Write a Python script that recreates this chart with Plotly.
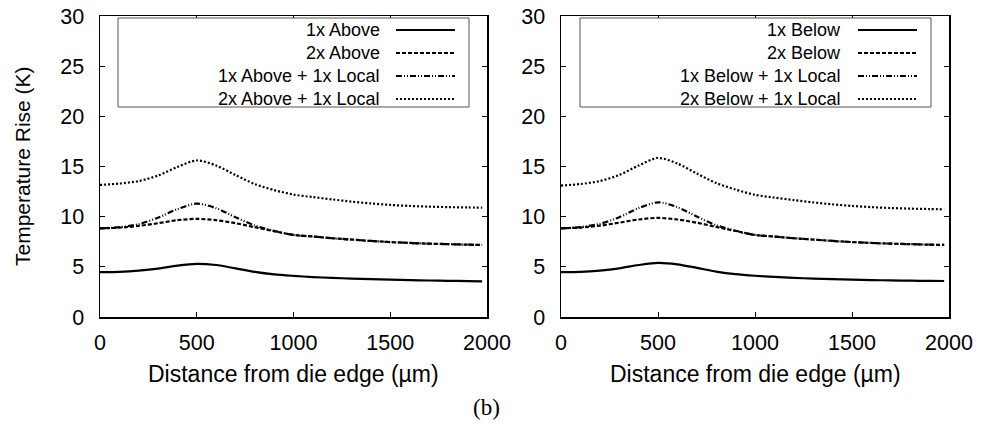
import plotly.graph_objects as go

# ---------------- data ----------------
distance_um = [0, 100, 200, 300, 400, 500, 600, 700, 800, 900, 1000,
               1100, 1200, 1300, 1400, 1500, 1600, 1700, 1800, 1900, 1975]

above_names = ["1x Above", "2x Above", "1x Above + 1x Local", "2x Above + 1x Local"]
below_names = ["1x Below", "2x Below", "1x Below + 1x Local", "2x Below + 1x Local"]

above_1x = [4.47, 4.50, 4.62, 4.82, 5.12, 5.30, 5.18, 4.85, 4.50, 4.25, 4.10,
            3.98, 3.90, 3.83, 3.77, 3.72, 3.68, 3.64, 3.61, 3.58, 3.56]
above_2x = [8.84, 8.90, 9.08, 9.35, 9.65, 9.78, 9.65, 9.35, 8.95, 8.55, 8.18,
            8.02, 7.85, 7.72, 7.58, 7.47, 7.38, 7.31, 7.26, 7.21, 7.18]
above_1x_local = [8.84, 8.95, 9.25, 9.90, 10.75, 11.30, 10.85, 9.95, 9.12, 8.58, 8.18,
                  8.02, 7.85, 7.72, 7.58, 7.47, 7.38, 7.31, 7.26, 7.21, 7.18]
above_2x_local = [13.16, 13.30, 13.55, 14.10, 14.95, 15.60, 15.10, 14.15, 13.25, 12.65, 12.20,
                  11.95, 11.72, 11.50, 11.32, 11.17, 11.07, 11.00, 10.95, 10.92, 10.90]

below_1x = [4.47, 4.50, 4.63, 4.85, 5.18, 5.40, 5.25, 4.90, 4.53, 4.27, 4.11,
            3.99, 3.90, 3.83, 3.77, 3.72, 3.68, 3.65, 3.62, 3.60, 3.59]
below_2x = [8.84, 8.91, 9.10, 9.40, 9.72, 9.88, 9.72, 9.40, 8.98, 8.57, 8.18,
            8.02, 7.85, 7.72, 7.58, 7.47, 7.38, 7.31, 7.26, 7.21, 7.18]
below_1x_local = [8.84, 8.96, 9.28, 9.95, 10.85, 11.43, 10.95, 10.02, 9.15, 8.60, 8.18,
                  8.02, 7.85, 7.72, 7.58, 7.47, 7.38, 7.31, 7.26, 7.21, 7.18]
below_2x_local = [13.10, 13.25, 13.55, 14.15, 15.10, 15.85, 15.30, 14.30, 13.35, 12.70, 12.18,
                  11.90, 11.65, 11.42, 11.23, 11.07, 10.95, 10.86, 10.80, 10.76, 10.73]

x_ticks = [0, 500, 1000, 1500, 2000]
y_ticks = [0, 5, 10, 15, 20, 25, 30]
y_title = "Temperature Rise (K)"
x_title = "Distance from die edge (µm)"
caption = "(b)"

# ---------------- styles ----------------
W, H = 984, 435
dashes = ["solid", "4px,2px", "6px,2px,1px,2px,1px,2px", "2px,2px"]
FONT = "Liberation Sans, Arial, sans-serif"

def fx(px):
    return px / W

def fy(py):
    return 1 - py / H

panels = [
    dict(xa="x", ya="y", names=above_names,
         series=[above_1x, above_2x, above_1x_local, above_2x_local],
         px0=100, px1=487, box=(118, 469), text_r=382, samp=(396, 455)),
    dict(xa="x2", ya="y2", names=below_names,
         series=[below_1x, below_2x, below_1x_local, below_2x_local],
         px0=561, px1=949, box=(580, 931), text_r=843, samp=(858, 917)),
]

fig = go.Figure()
shapes = []
annotations = []
row_y = [30, 53, 76, 99]

for p in panels:
    for name, ys, dsh in zip(p["names"], p["series"], dashes):
        fig.add_trace(go.Scatter(
            x=distance_um, y=ys, mode="lines", name=name,
            line=dict(color="black", width=2.2, dash=dsh, shape="spline", smoothing=0.8),
            xaxis=p["xa"], yaxis=p["ya"], showlegend=False))
    # legend box
    shapes.append(dict(type="rect", xref="paper", yref="paper",
                       x0=fx(p["box"][0]), x1=fx(p["box"][1]), y0=fy(107), y1=fy(18),
                       line=dict(color="#555555", width=1), fillcolor="white", layer="above"))
    for name, dsh, ry in zip(p["names"], dashes, row_y):
        annotations.append(dict(text=name, xref="paper", yref="paper",
                                x=fx(p["text_r"]), y=fy(ry), xanchor="right", yanchor="middle",
                                showarrow=False, font=dict(family=FONT, size=18, color="black")))
        shapes.append(dict(type="line", xref="paper", yref="paper",
                           x0=fx(p["samp"][0]), x1=fx(p["samp"][1]), y0=fy(ry), y1=fy(ry),
                           line=dict(color="black", width=2, dash=dsh), layer="above"))
    # x title
    annotations.append(dict(text=x_title, xref="paper", yref="paper",
                            x=fx((p["px0"] + p["px1"]) / 2), y=fy(374),
                            xanchor="center", yanchor="middle", showarrow=False,
                            font=dict(family=FONT, size=23, color="black")))

annotations.append(dict(text=y_title, xref="paper", yref="paper", x=fx(22), y=fy(166),
                        xanchor="center", yanchor="middle", textangle=-90, showarrow=False,
                        font=dict(family=FONT, size=21, color="black")))
annotations.append(dict(text=caption, xref="paper", yref="paper", x=fx(486), y=fy(407),
                        xanchor="center", yanchor="middle", showarrow=False,
                        font=dict(family="Liberation Serif, Times New Roman, serif", size=23, color="black")))

axis_common = dict(showgrid=False, zeroline=False, showline=True, linecolor="black", linewidth=1.5,
                   mirror="ticks", ticks="inside", ticklen=5, tickwidth=1, tickcolor="black",
                   automargin=False,
                   tickfont=dict(family=FONT, size=21.5, color="black"))

ydom = [fy(317), fy(16)]
fig.update_layout(
    width=W, height=H, margin=dict(l=0, r=0, t=0, b=0, pad=0), autosize=False,
    paper_bgcolor="white", plot_bgcolor="white",
    xaxis=dict(domain=[fx(100), fx(487)], range=[0, 2000], tickvals=x_ticks, anchor="y",
               ticklabelstandoff=6, **axis_common),
    yaxis=dict(domain=ydom, range=[0, 30], tickvals=y_ticks, anchor="x",
               ticklabelstandoff=10, **axis_common),
    xaxis2=dict(domain=[fx(561), fx(949)], range=[0, 2000], tickvals=x_ticks, anchor="y2",
                ticklabelstandoff=6, **axis_common),
    yaxis2=dict(domain=ydom, range=[0, 30], tickvals=y_ticks, anchor="x2",
                ticklabelstandoff=10, **axis_common),
    shapes=shapes, annotations=annotations,
)

fig.write_html("out.html", config={"displayModeBar": False, "staticPlot": True},
               post_script="document.body.style.margin='0';document.body.style.overflow='hidden';")
